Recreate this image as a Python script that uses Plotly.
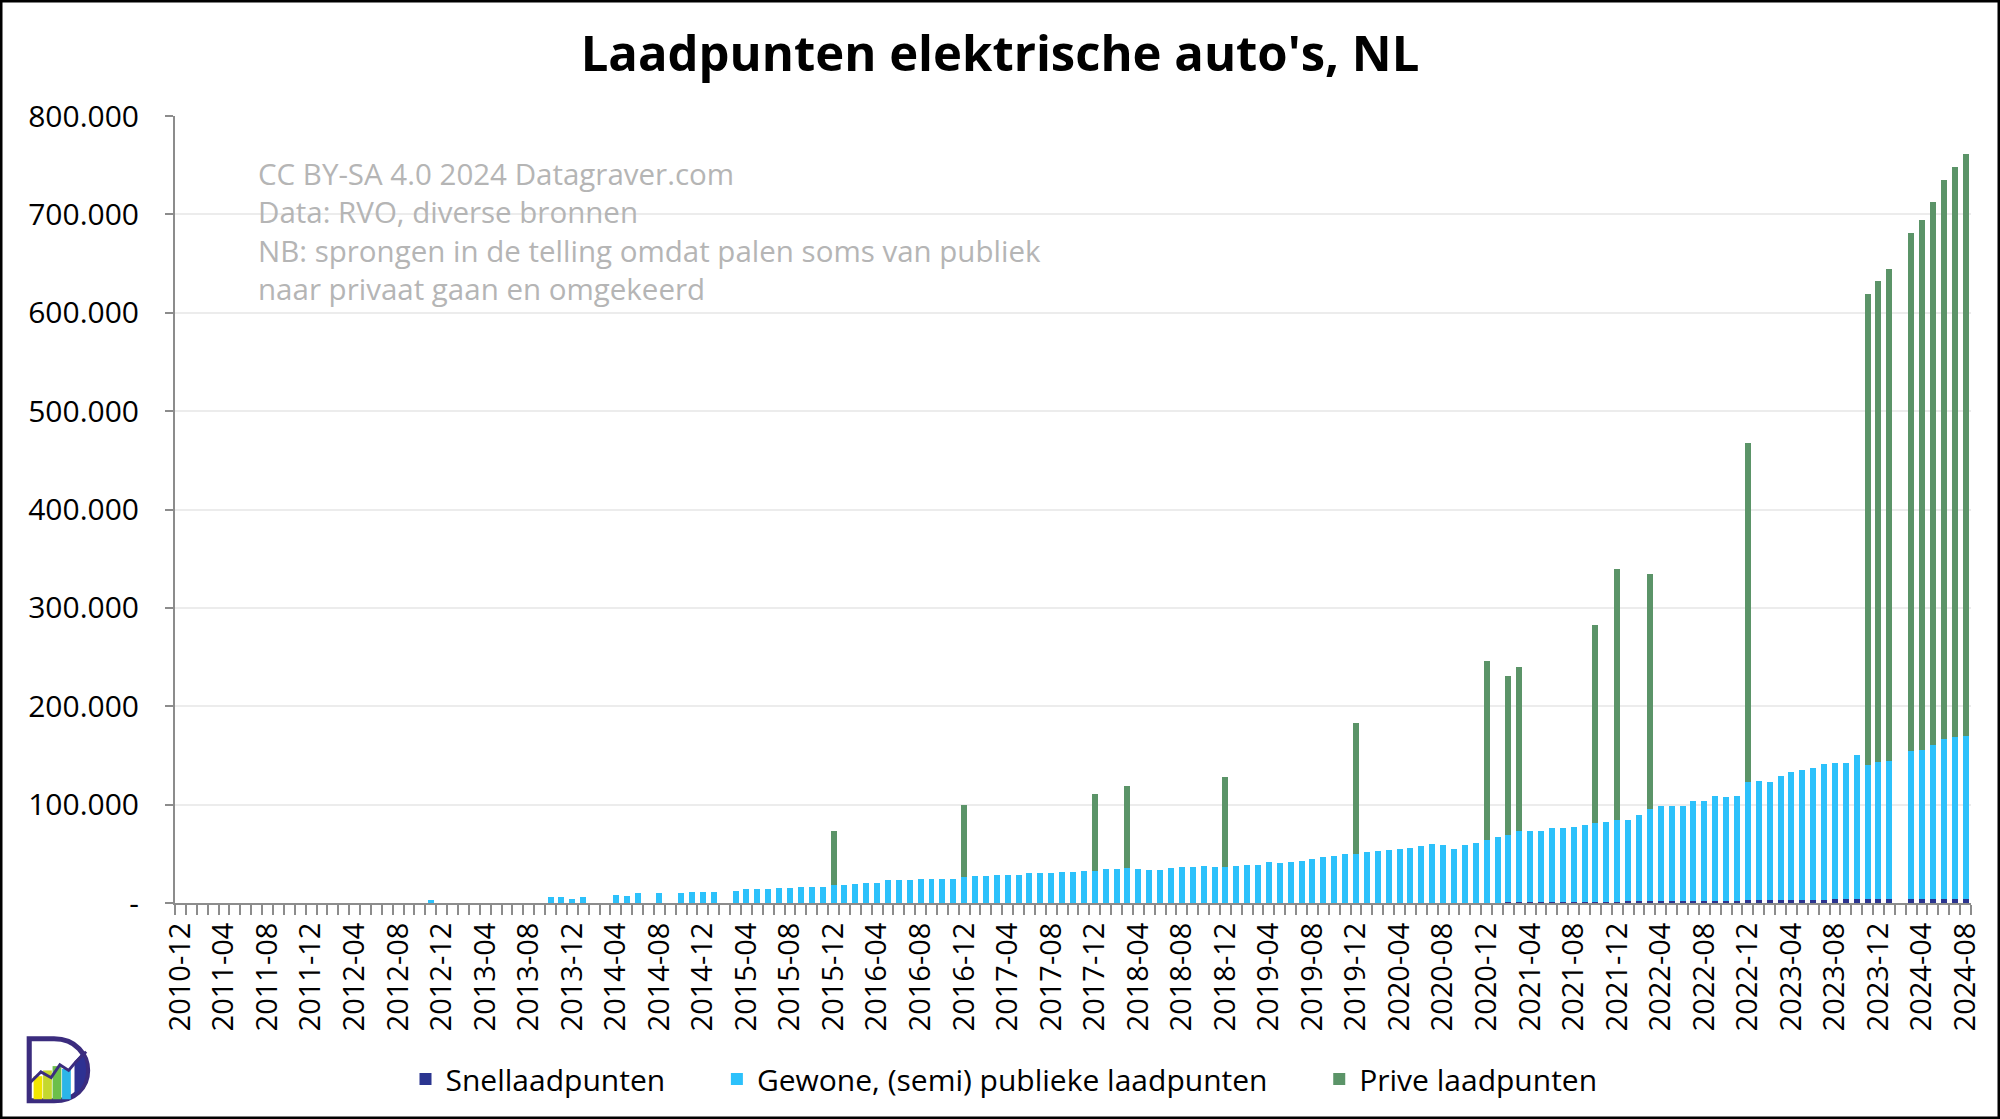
import base64
import pandas as pd
import plotly.graph_objects as go

# ---- data ----
months = [p.strftime("%Y-%m") for p in pd.period_range("2010-12", "2024-08", freq="M")]

snel = [0]*122 + [
    1000, 1100, 1100, 1200, 1200, 1300, 1300, 1400, 1400, 1500, 1500, 1600, 1600, 1700, 1700,
    1800, 1800, 1900, 1900, 2000, 2000, 2100, 2600, 2700, 2800, 3200, 3300, 3400, 3500, 3500,
    3600, 3600, 3700, 3700, 3800, 3800, 0, 4000, 4100, 4200, 4300, 4400, 4500]

gewone = [
    # 2010-12 .. 2012-10 (i 0-22)
    0, 0, 0, 0, 0, 0, 0, 0, 0, 0, 0, 0, 0, 0, 0, 0, 0, 0, 0, 0, 0, 0, 0,
    # i 23-33
    3400, 0, 0, 0, 0, 0, 0, 0, 0, 0, 0,
    # i 34-50
    6100, 6100, 4400, 6100, 0, 0, 8500, 7100, 9800, 0, 9800, 0, 9800, 11200, 11200, 11200, 0,
    # i 51-70
    12500, 13900, 13900, 13900, 15300, 15300, 16600, 16600, 16600, 18000,
    18000, 19300, 20700, 20700, 23400, 23400, 23400, 24700, 24700, 24700,
    # i 71-90
    24700, 26100, 27500, 27500, 28800, 28800, 28800, 30200, 30200, 30200,
    31500, 31500, 32900, 32900, 34200, 34200, 35600, 34900, 33900, 33900,
    # i 91-110
    35600, 36600, 36600, 37600, 36600, 36600, 37600, 39000, 39000, 41700,
    40700, 41700, 43100, 44400, 46800, 48100, 49500, 50200, 51500, 52900,
    # i 111-121
    53600, 54900, 56300, 57600, 60300, 59000, 54900, 59000, 61400, 64100, 66800,
    # i 122-164
    68500, 72500, 72500, 72400, 75100, 75000, 76300, 77600, 80000, 81200,
    82600, 82500, 87600, 94200, 96900, 96800, 96800, 102200, 102200, 106800,
    105500, 106700, 120100, 121400, 119900, 125600, 129600, 132200, 133500, 137500,
    138800, 138800, 146500, 137000, 139900, 140900, 0, 150200, 151200, 156100,
    162500, 164100, 165000]

prive_idx = [60, 72, 84, 87, 96, 108, 120, 122, 123, 130, 132, 135, 144,
             155, 156, 157, 159, 160, 161, 162, 163, 164]
prive_val = [55200, 73200, 78300, 83700, 91900, 132500, 181700, 161700, 166800,
             201300, 255500, 238700, 345100, 478700, 488800, 499400, 527200,
             539300, 552600, 568100, 580000, 592200]
prive = [0]*len(months)
for k, v in zip(prive_idx, prive_val):
    prive[k] = v

ytick_vals = [0, 100000, 200000, 300000, 400000, 500000, 600000, 700000, 800000]
ytick_text = ["-", "100.000", "200.000", "300.000", "400.000", "500.000",
              "600.000", "700.000", "800.000"]

series_names = ["Snellaadpunten", "Gewone, (semi) publieke laadpunten", "Prive laadpunten"]
title = "Laadpunten elektrische auto's, NL"
note_lines = ["CC BY-SA 4.0 2024 Datagraver.com",
              "Data: RVO, diverse bronnen",
              "NB: sprongen in de telling omdat palen soms van publiek",
              "naar privaat gaan en omgekeerd"]

# ---- figure ----
W, H = 2000, 1119
ML, MR, MT, MB = 175, 29, 116, 216
PW, PH = W - ML - MR, H - MT - MB
FONT = "Open Sans"
PAD = "\u00a0" * 6

xs = list(range(len(months)))

fig = go.Figure()
fig.add_bar(x=xs, y=snel, name=series_names[0] + PAD, marker_color="#2b3590")
fig.add_bar(x=xs, y=gewone, name=series_names[1] + PAD, marker_color="#2cc1fb")
fig.add_bar(x=xs, y=prive, name=series_names[2], marker_color="#5b9468")
fig.update_traces(marker_line_width=0)


def px_x(p):
    return (p - ML) / PW


def px_y(p):
    return (H - MB - p) / PH


# logo as inline svg
svg = """<svg xmlns='http://www.w3.org/2000/svg' viewBox='0 0 100 100'>
<path d='M14 8 L48 8 C78 8 94 30 94 52 C94 76 76 94 48 94 L14 94 Z' fill='white' stroke='#3b2c7e' stroke-width='7'/>
<path d='M86 28 C96 44 94 72 76 86 L76 40 Z' fill='#2e3192'/>
<rect x='20' y='60' width='12' height='32' fill='#f2e600'/>
<rect x='33' y='52' width='12' height='40' fill='#c5d82e'/>
<rect x='46' y='46' width='12' height='46' fill='#6cbf4a'/>
<rect x='59' y='50' width='12' height='42' fill='#2cb5e8'/>
<path d='M14 70 L30 54 L44 62 L56 44 L68 52 L78 40 L92 26' fill='none' stroke='#3b2c7e' stroke-width='4'/>
</svg>"""
logo_src = "data:image/svg+xml;base64," + base64.b64encode(svg.encode()).decode()

annotations = [dict(
    text="<br>".join(note_lines), xref="paper", yref="paper",
    x=px_x(256), y=px_y(151), xanchor="left", yanchor="top",
    align="left", showarrow=False,
    font=dict(family=FONT, size=29.5, color="#b5b5b5"),
)]

fig.update_layout(
    width=W, height=H,
    margin=dict(l=ML, r=MR, t=MT, b=MB, pad=0),
    paper_bgcolor="white", plot_bgcolor="white",
    barmode="stack", bargap=0.45,
    font=dict(family=FONT, color="black", size=30),
    title=dict(text="<b>" + title + "</b>", x=0.5, xanchor="center",
               y=1 - 54 / H, yanchor="middle",
               font=dict(family=FONT, size=49, color="black")),
    legend=dict(orientation="h", x=px_x(1004), xanchor="center",
                y=px_y(1079), yanchor="middle",
                font=dict(family=FONT, size=30), traceorder="normal",
                itemwidth=30),
    showlegend=True,
    xaxis=dict(
        range=[-0.5, len(months) - 0.5],
        tickmode="array", tickvals=xs[::4], ticktext=months[::4],
        tickangle=-90, ticks="", showgrid=False,
        showline=True, linecolor="#8c8c8c", linewidth=2,
        tickfont=dict(family=FONT, size=29, color="black"),
        ticklabelstandoff=6,
        minor=dict(tick0=-0.5, dtick=1, ticks="outside", ticklen=10,
                   tickcolor="#8c8c8c", tickwidth=2, showgrid=False),
        zeroline=False, fixedrange=True,
    ),
    yaxis=dict(
        range=[0, 800000],
        tickmode="array", tickvals=ytick_vals, ticktext=ytick_text,
        ticks="outside", ticklen=8, tickcolor="#8c8c8c", tickwidth=2,
        showline=True, linecolor="#8c8c8c", linewidth=2,
        showgrid=True, gridcolor="#ececec", gridwidth=2,
        zeroline=False,
        tickfont=dict(family=FONT, size=30, color="black"),
        ticklabelstandoff=20,
    ),
    annotations=annotations,
    shapes=[dict(type="rect", xref="paper", yref="paper",
                 x0=px_x(1), x1=px_x(W - 1), y0=px_y(H - 1), y1=px_y(1),
                 line=dict(color="black", width=3), fillcolor="rgba(0,0,0,0)",
                 layer="above")],
    images=[dict(source=logo_src, xref="paper", yref="paper",
                 x=px_x(19), y=px_y(1033), sizex=73 / PW, sizey=72 / PH,
                 xanchor="left", yanchor="top", sizing="stretch", layer="above")],
)

fig.write_html("out.html",
               config={"displayModeBar": False},
               post_script="document.body.style.margin='0';document.body.style.overflow='hidden';")
